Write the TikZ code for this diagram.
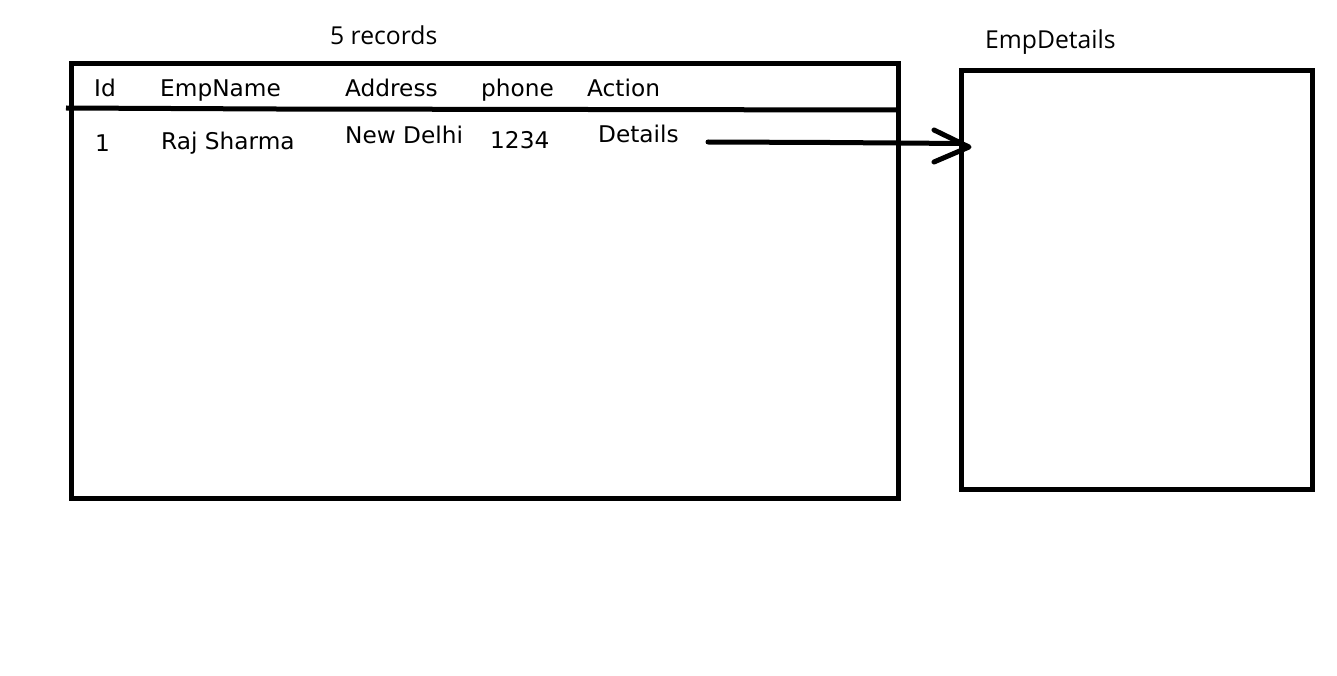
\documentclass[tikz,border=0pt]{standalone}
\usepackage{fontspec}
\usepackage{graphicx}
\newfontfamily\tblfont{DejaVu Sans}
\newfontfamily\ttlfont{Open Sans}
\tikzset{
  box/.style={draw=black, line width=5pt, fill=none},
  cell/.style={anchor=base west, inner sep=0pt, font=\tblfont\fontsize{23}{23}\selectfont},
  ttl/.style={anchor=base west, inner sep=0pt, font=\ttlfont\fontsize{24.7}{25}\selectfont},
  conn/.style={draw=black, line width=5pt, line cap=round, line join=round}
}
\newcommand{\cw}[1]{\scalebox{1.01}[1]{#1}}
\begin{document}
\begin{tikzpicture}[x=1pt,y=-1pt]
\useasboundingbox[fill=white] (0,0) rectangle (1337,676);
% boxes
\draw[box] (71.5,64) rectangle (898.5,498.5);
\draw[box] (961,71) rectangle (1312.5,489);
\coordinate (hl) at (66,108);
\coordinate (hm) at (275,109);
\coordinate (hr) at (898.5,110);
\draw[conn, line cap=butt] (hl) -- (hm) -- (hr);
% titles
\node[ttl] (t1) at (330,45) {5 records};
\node[ttl] (t2) at (985,48.5) {EmpDetails};
% header
\node[cell] (h1) at (94,97) {\cw{Id}};
\node[cell] (h2) at (160,97) {\cw{EmpName}};
\node[cell] (h3) at (345,97) {\cw{Address}};
\node[cell] (h4) at (481,97) {\cw{phone}};
\node[cell] (h5) at (587,97) {\cw{Action}};
% row
\node[cell] (r1) at (95,152) {\cw{1}};
\node[cell] (r2) at (161,149.5) {\cw{Raj Sharma}};
\node[cell] (r3) at (345,143.5) {\cw{New Delhi}};
\node[cell] (r4) at (490,148.5) {\cw{1234}};
\node[cell] (r5) at (598,142.5) {\cw{Details}};
% arrow
\coordinate (as) at (708,142);
\coordinate (tip) at (969,147);
\coordinate (au) at (934,130);
\coordinate (al) at (934,162);
\draw[conn] (as) -- (830,142.5) -- (962,143.5);
\draw[conn] (au) -- (tip) -- (al);
\end{tikzpicture}
\end{document}
